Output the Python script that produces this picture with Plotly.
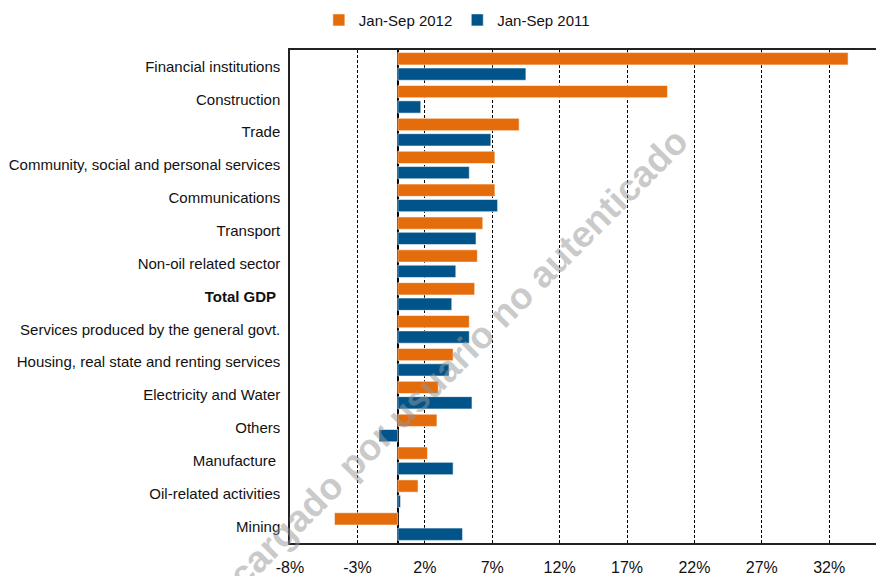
import plotly.graph_objects as go

# Sectors, listed top to bottom
sectors = [
    "Financial institutions",
    "Construction",
    "Trade",
    "Community, social and personal services",
    "Communications",
    "Transport",
    "Non-oil related sector",
    "Total GDP",
    "Services produced by the general govt.",
    "Housing, real state and renting services",
    "Electricity and Water",
    "Others",
    "Manufacture",
    "Oil-related activities",
    "Mining",
]
# Display labels (Total GDP in bold)
sector_labels = [
    "Financial institutions",
    "Construction",
    "Trade",
    "Community, social and personal services",
    "Communications",
    "Transport",
    "Non-oil related sector",
    "<b>Total GDP</b>\u00a0",
    "Services produced by the general govt.",
    "Housing, real state and renting services",
    "Electricity and Water",
    "Others",
    "Manufacture\u00a0",
    "Oil-related activities",
    "Mining",
]

# Real growth rates, %
growth_2012 = [33.4, 20.0, 9.0, 7.2, 7.2, 6.3, 5.9, 5.7, 5.3, 4.1, 3.0, 2.9, 2.2, 1.5, -4.7]
growth_2011 = [9.5, 1.7, 6.9, 5.3, 7.4, 5.8, 4.3, 4.0, 5.3, 3.8, 5.5, -1.4, 4.1, 0.2, 4.8]

series_names = ["Jan-Sep 2012", "Jan-Sep 2011"]
x_ticks = [-8, -3, 2, 7, 12, 17, 22, 27, 32]
x_tick_text = [f"{v}%" for v in x_ticks]

ORANGE = "#E46C0A"
BLUE = "#00548A"
FONT = "Liberation Sans, Arial, sans-serif"

fig = go.Figure()
fig.add_trace(go.Bar(
    y=sectors, x=growth_2012, name=series_names[0], orientation="h",
    marker=dict(color=ORANGE, line=dict(color="rgba(255,255,255,0.55)", width=1)),
))
fig.add_trace(go.Bar(
    y=sectors, x=growth_2011, name=series_names[1], orientation="h",
    marker=dict(color=BLUE, line=dict(color="rgba(255,255,255,0.55)", width=1)),
))

fig.update_layout(
    width=876, height=576,
    margin=dict(l=290, r=0, t=50, b=31, pad=0),
    paper_bgcolor="white", plot_bgcolor="white",
    barmode="group", bargap=0.065, bargroupgap=0.2,
    font=dict(family=FONT, size=15, color="#111"),
    showlegend=True,
    legend=dict(
        orientation="h", xref="container", yref="container",
        x=0.364, xanchor="left", y=0.965, yanchor="middle",
        font=dict(size=15, color="#111"), bgcolor="rgba(0,0,0,0)",
        traceorder="normal",
    ),
    xaxis=dict(
        range=[-8, 35.47], tickmode="array", tickvals=x_ticks, ticktext=x_tick_text,
        showgrid=True, gridcolor="#000", gridwidth=1, griddash="3px,2px",
        zeroline=True, zerolinecolor="#000", zerolinewidth=2,
        showline=True, linecolor="#222", linewidth=1.5, mirror=True,
        ticks="", tickfont=dict(size=16, color="#111"),
        ticklabelstandoff=9, fixedrange=True,
    ),
    yaxis=dict(
        type="category", categoryorder="array", categoryarray=sectors,
        tickmode="array", tickvals=sectors, ticktext=sector_labels,
        autorange="reversed", showgrid=False, zeroline=False,
        showline=True, linecolor="#222", linewidth=1.5,
        ticks="", tickfont=dict(size=15, color="#111"),
        ticklabelstandoff=5, fixedrange=True,
    ),
)

# Diagonal download stamp across the page
fig.add_annotation(
    text="Descargado por usuario no autenticado",
    xref="paper", yref="paper", x=0.2474, y=0.3266,
    xanchor="center", yanchor="middle", showarrow=False, textangle=-45,
    font=dict(family=FONT, size=37, color="rgba(150,150,150,0.5)", weight="bold"),
)

fig.write_html("out.html")
